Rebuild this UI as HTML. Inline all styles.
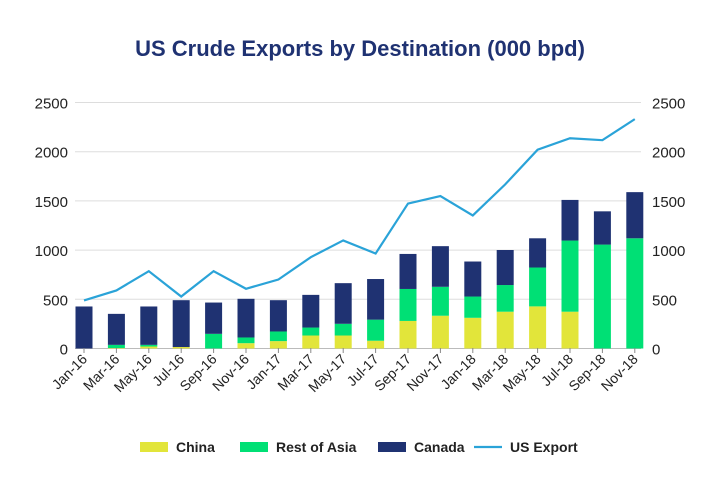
<!DOCTYPE html>
<html><head><meta charset="utf-8"><style>
body{margin:0;background:#fff;font-family:"Liberation Sans",sans-serif;}
</style></head><body>
<svg id="c" width="720" height="499" xmlns="http://www.w3.org/2000/svg">
<text x="360" y="56" text-anchor="middle" font-size="22" font-weight="bold" fill="#1f3272">US Crude Exports by Destination (000 bpd)</text>
</svg>
<script>
const categories=["Jan-16","Mar-16","May-16","Jul-16","Sep-16","Nov-16","Jan-17","Mar-17","May-17","Jul-17","Sep-17","Nov-17","Jan-18","Mar-18","May-18","Jul-18","Sep-18","Nov-18"];
const china=[0,5,20,15,0,54,75,132,132,79,280,333,312,374,428,374,0,0];
const restOfAsia=[0,32,17,0,149,58,98,81,119,214,325,294,216,271,395,723,1056,1120];
const canada=[427,315,390,476,318,393,318,332,413,413,356,413,356,356,297,413,338,469];
const usExport=[488,590,786,528,786,607,701,928,1098,965,1473,1549,1352,1668,2020,2137,2117,2331];
const yTicks=[0,500,1000,1500,2000,2500];
const svg=document.getElementById('c');const NS="http://www.w3.org/2000/svg";
const x0=84,step=32.4,y0=348.5,k=0.0984,bw=17;
const X=i=>x0+i*step, Y=v=>y0-v*k;
function el(t,a,p){const e=document.createElementNS(NS,t);for(const n in a)e.setAttribute(n,a[n]);(p||svg).appendChild(e);return e;}
yTicks.forEach(t=>{
 const g=el('line',{x1:75,x2:641,y1:Y(t),y2:Y(t),stroke:t===0?'#bbb':'#ddd','stroke-width':1});
 
 
 const l=el('text',{x:68,y:Y(t)+6,'text-anchor':'end','font-size':15,fill:'#222'});l.textContent=t;
 
 
 const r=el('text',{x:652,y:Y(t)+6,'font-size':15,fill:'#222'});r.textContent=t;
 
 
});
categories.forEach((c,i)=>{
 let base=0;
 [[china,'#e2e53a','bar-china'],[restOfAsia,'#00e075','bar-rest-of-asia'],[canada,'#1f3272','bar-canada']].forEach(([arr,col,nm])=>{
  const v=arr[i];if(v<=0)return;
  const r=el('rect',{x:X(i)-bw/2,y:Y(base+v),width:bw,height:v*k,fill:col});
  
  
  base+=v;
 });
 const tk=el('line',{x1:X(i),x2:X(i),y1:348,y2:353,stroke:'#888'});
 
 
 const t=el('text',{x:X(i)+4,y:360,'text-anchor':'end','font-size':14,fill:'#222',transform:`rotate(-45 ${X(i)+4} 360)`});
 t.textContent=c;
 
 
});
const ln=el('polyline',{points:usExport.map((v,i)=>X(i)+','+Y(v)).join(' '),fill:'none',stroke:'#2aa3d8','stroke-width':2.2});


const legend=[['China','#e2e53a',140,'rect'],['Rest of Asia','#00e075',240,'rect'],['Canada','#1f3272',378,'rect'],['US Export','#2aa3d8',474,'line']];
legend.forEach(([n,c,x,t])=>{
 const g=el('g',{});
 
 
 if(t==='rect')el('rect',{x:x,y:442,width:28,height:10,fill:c},g);
 else el('line',{x1:x,x2:x+28,y1:447,y2:447,stroke:c,'stroke-width':2.2},g);
 const tx=el('text',{x:x+36,y:452,'font-size':14,'font-weight':'bold',fill:'#222'},g);tx.textContent=n;
});
</script>
</body></html>
